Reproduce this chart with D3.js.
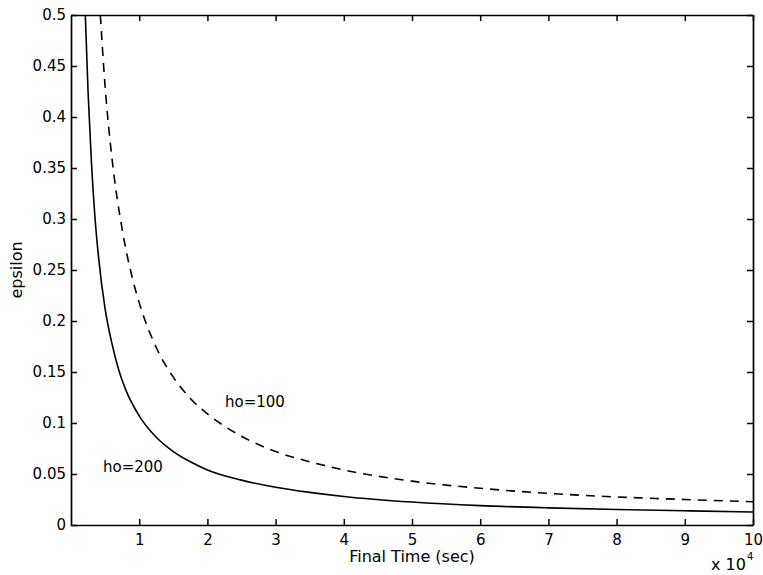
<!DOCTYPE html>
<html>
<head>
<meta charset="utf-8">
<script src="https://cdn.jsdelivr.net/npm/d3@7/dist/d3.min.js"></script>
<style>
  html, body { margin: 0; padding: 0; background: #fff; }
  svg { display: block; }
  text { font-family: "DejaVu Sans", "Liberation Sans", Arial, sans-serif; fill: #000; }
</style>
</head>
<body>
<svg id="chart" width="763" height="575"></svg>
<script>
// Final time, in units of 1e4 seconds
const timeHo200 = [0.21, 0.25, 0.3, 0.35, 0.4, 0.5, 0.6, 0.7, 0.8, 1.0, 1.25, 1.5, 1.75, 2, 2.5, 3, 3.5, 4, 5, 6, 7, 8, 9, 10];
const epsHo200  = [0.5, 0.425, 0.355, 0.303, 0.265, 0.212, 0.178, 0.152, 0.133, 0.107, 0.086, 0.072, 0.062, 0.054, 0.044, 0.037, 0.032, 0.028, 0.0225, 0.019, 0.0168, 0.0152, 0.0139, 0.0128];

const timeHo100 = [0.43, 0.5, 0.6, 0.75, 0.9, 1.0, 1.25, 1.5, 1.75, 2, 2.5, 3, 3.5, 4, 5, 6, 7, 8, 9, 10];
const epsHo100  = [0.5, 0.43, 0.36, 0.29, 0.242, 0.218, 0.174, 0.145, 0.124, 0.109, 0.087, 0.072, 0.062, 0.054, 0.043, 0.036, 0.031, 0.0275, 0.025, 0.0228];

const xTicks = [1, 2, 3, 4, 5, 6, 7, 8, 9, 10];
const yTicks = [0, 0.05, 0.1, 0.15, 0.2, 0.25, 0.3, 0.35, 0.4, 0.45, 0.5];

const svg = d3.select("#chart");
const m = { left: 71, right: 10, top: 15, bottom: 50 };
const W = 763, H = 575;
const x = d3.scaleLinear().domain([0, 10]).range([m.left, W - m.right]);
const y = d3.scaleLinear().domain([0, 0.5]).range([H - m.bottom, m.top]);

svg.append("defs").append("clipPath").attr("id", "plotclip")
  .append("rect")
  .attr("x", x(0)).attr("y", y(0.5))
  .attr("width", x(10) - x(0)).attr("height", y(0) - y(0.5));

// Curves
const line = d3.line()
  .x(d => x(d[0]))
  .y(d => y(d[1]))
  .curve(d3.curveMonotoneX);

const plot = svg.append("g").attr("clip-path", "url(#plotclip)");
plot.append("path")
  .datum(d3.zip(timeHo200, epsHo200))
  .attr("d", line)
  .attr("fill", "none")
  .attr("stroke", "#000")
  .attr("stroke-width", 1.6);

plot.append("path")
  .datum(d3.zip(timeHo100, epsHo100))
  .attr("d", line)
  .attr("fill", "none")
  .attr("stroke", "#000")
  .attr("stroke-width", 1.6)
  .attr("stroke-dasharray", "9,7");

// Axes: ticks point inward, mirrored on top and right
const tickLen = 6;
const fontSize = 15;

const axBottom = svg.append("g").attr("transform", `translate(0,${y(0)})`)
  .call(d3.axisBottom(x).tickValues(xTicks).tickSizeInner(-tickLen).tickSizeOuter(0).tickPadding(9));
const axTop = svg.append("g").attr("transform", `translate(0,${y(0.5)})`)
  .call(d3.axisTop(x).tickValues(xTicks).tickSizeInner(-tickLen).tickSizeOuter(0).tickFormat(""));
const axLeft = svg.append("g").attr("transform", `translate(${x(0)},0)`)
  .call(d3.axisLeft(y).tickValues(yTicks).tickSizeInner(-tickLen).tickSizeOuter(0).tickPadding(5).tickFormat(d3.format("")));
const axRight = svg.append("g").attr("transform", `translate(${x(10)},0)`)
  .call(d3.axisRight(y).tickValues(yTicks).tickSizeInner(-tickLen).tickSizeOuter(0).tickFormat(""));

[axBottom, axTop, axLeft, axRight].forEach(g => {
  g.select(".domain").attr("stroke", "#000").attr("stroke-width", 1.7);
  g.selectAll(".tick line").attr("stroke", "#000").attr("stroke-width", 1.5);
  g.selectAll(".tick text")
    .style("font-family", '"DejaVu Sans", Arial, sans-serif')
    .style("font-size", fontSize + "px")
    .attr("fill", "#000");
});

// Axis titles
svg.append("text")
  .attr("x", 412).attr("y", 562)
  .attr("text-anchor", "middle")
  .style("font-size", "16px")
  .text("Final Time (sec)");

svg.append("text")
  .attr("transform", `translate(22,${(y(0) + y(0.5)) / 2}) rotate(-90)`)
  .attr("text-anchor", "middle")
  .style("font-size", "16px")
  .text("epsilon");

// Exponent multiplier
const mult = svg.append("text")
  .attr("x", 711).attr("y", 570)
  .style("font-size", "16px");
mult.append("tspan").text("x 10");
mult.append("tspan").attr("dy", -10).attr("dx", 1).style("font-size", "10px").text("4");

// Curve annotations
svg.append("text").attr("x", 225).attr("y", 407).style("font-size", "15px").text("ho=100");
svg.append("text").attr("x", 103).attr("y", 472).style("font-size", "15px").text("ho=200");
</script>
</body>
</html>
